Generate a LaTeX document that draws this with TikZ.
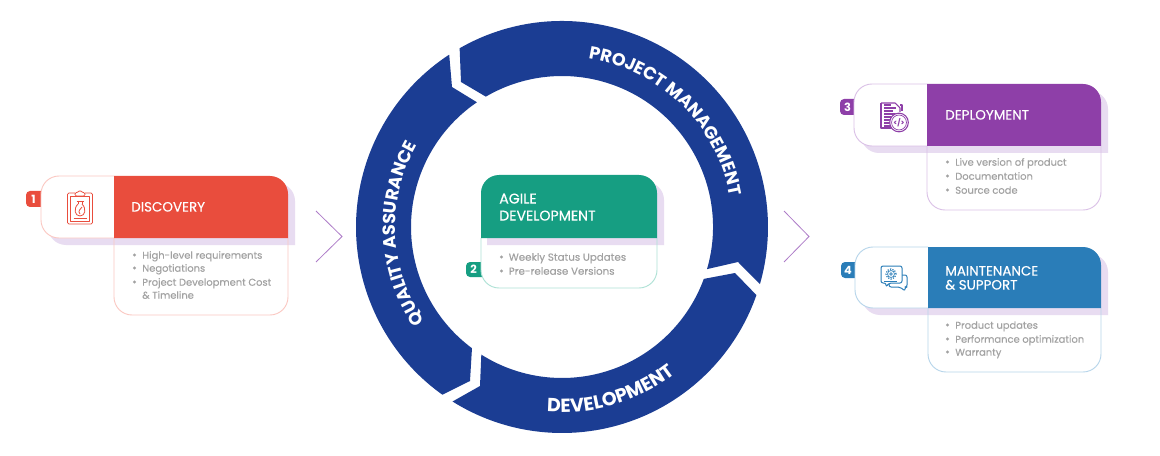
\documentclass[tikz,border=0pt]{standalone}
\usepackage{fontspec}
\setmainfont{Poppins}
\newfontfamily\titlef[FakeBold=0.35]{Poppins}
\newfontfamily\itemf[FakeBold=0.25]{Poppins}
\usetikzlibrary{calc,decorations.text}
\definecolor{navy}{HTML}{1B3D93}
\definecolor{cred}{HTML}{E94D3D}
\definecolor{cpur}{HTML}{8E3FA8}
\definecolor{cblu}{HTML}{2A7DB8}
\definecolor{cgrn}{HTML}{169E82}
\definecolor{bred}{HTML}{FBC9C3}
\definecolor{bpur}{HTML}{DBC2E7}
\definecolor{bblu}{HTML}{B8D6EB}
\definecolor{bgrn}{HTML}{AFE2D6}
\definecolor{lav}{HTML}{E8DCF1}
\definecolor{txt}{HTML}{A2A2A2}
\definecolor{chev}{HTML}{AE7CC8}
\tikzset{
  x=.75pt,y=-.75pt,
  ringseg/.style={fill=navy},
  title/.style={anchor=base west,yshift=-3.4pt,text=white,font=\titlef\fontsize{10.1}{12}\selectfont,inner sep=0pt},
  bigtitle/.style={title,font=\titlef\fontsize{10.6}{12}\selectfont},
  item/.style={anchor=base west,yshift=-2.8pt,text=txt,font=\itemf\fontsize{7.45}{10}\selectfont,inner sep=0pt},
  bigitem/.style={item,font=\itemf\fontsize{7.7}{10}\selectfont},
  dot/.style={fill=txt},
  badge/.style={text=white,font=\bfseries\fontsize{8.5}{10}\selectfont,inner sep=0pt},
  chevron/.style={draw=chev,line width=.6pt},
  ic/.style={line width=.6pt,line join=round},
}
\newcommand{\ringfont}{\bfseries\fontsize{13.2}{15}\selectfont}
\newcommand{\ringfontb}{\bfseries\fontsize{14.2}{15}\selectfont}
\def\Rc{13.5pt}
% x0 x1 x2 ytop ymid ybot main border
\newcommand{\cardbody}[8]{
  \fill[white] (#2,#5) -- (#2,#6-18) arc[start angle=180,end angle=270,radius=\Rc] -- (#3-18,#6) arc[start angle=270,end angle=360,radius=\Rc] -- (#3,#5) -- cycle;
  \fill[lav] (#3+7,#5+7) -- (#1+25,#5+7) arc[start angle=270,end angle=180,radius=\Rc] -- (#1+7,#4+25) arc[start angle=180,end angle=90,radius=\Rc] -- (#3-11,#4+7) arc[start angle=90,end angle=0,radius=\Rc] -- cycle;
  \fill[white] (#2,#5) -- (#1+18,#5) arc[start angle=270,end angle=180,radius=\Rc] -- (#1,#4+18) arc[start angle=180,end angle=90,radius=\Rc] -- (#2,#4) -- cycle;
  \draw[#8,line width=.7pt] (#2,#5) -- (#2,#6-18) arc[start angle=180,end angle=270,radius=\Rc] -- (#3-18,#6) arc[start angle=270,end angle=360,radius=\Rc] -- (#3,#5);
  \draw[#8,line width=.7pt] (#2,#5) -- (#1+18,#5) arc[start angle=270,end angle=180,radius=\Rc] -- (#1,#4+18) arc[start angle=180,end angle=90,radius=\Rc] -- (#2,#4);
  \fill[#7] (#2,#4) -- (#3-18,#4) arc[start angle=90,end angle=0,radius=\Rc] -- (#3,#5) -- (#2,#5) -- cycle;
}
\newcommand{\bul}[2]{\fill[dot] (#1,#2) circle (1.25pt);}
\begin{document}
\begin{tikzpicture}
\useasboundingbox (0,0) rectangle (1160,456);
\fill[white] (0,0) rectangle (1160,456);
\coordinate (C) at (562,227);
\def\Ro{154.5pt}\def\Ri{113.25pt}
% ring
\fill[ringseg] ($(C)+(119.8:\Ro)$) arc[start angle=119.8,end angle=-16.1,radius=\Ro] -- (738,262) -- ($(C)+(-16.2:\Ri)$) arc[start angle=-16.2,end angle=120.3,radius=\Ri] -- (461,82) -- cycle;
\fill[ringseg] ($(C)+(-19.3:\Ro)$) arc[start angle=-19.3,end angle=-122.1,radius=\Ro] -- (480,386) -- ($(C)+(-122.3:\Ri)$) arc[start angle=-122.3,end angle=-20.1,radius=\Ri] -- (735,273) -- cycle;
\fill[ringseg] ($(C)+(234.5:\Ro)$) arc[start angle=234.5,end angle=123.2,radius=\Ro] -- (452,87) -- ($(C)+(124.3:\Ri)$) arc[start angle=124.3,end angle=233.4,radius=\Ri] -- (470,381) -- cycle;
% ring labels
\path[decorate,decoration={text along path,text align=center,text color=white,text={|\ringfont|PROJECT MANAGEMENT}}]
  ($(C)+(85:128pt)$) arc[start angle=85,end angle=6.4,radius=128pt];
\path[decorate,decoration={text along path,text align=center,text color=white,text={|\ringfont|QUALITY ASSURANCE}}]
  ($(C)+(218.5:125pt)$) arc[start angle=218.5,end angle=146.5,radius=125pt];
\path[decorate,decoration={text along path,text align=center,text color=white,text={|\ringfontb|DEVELOPMENT}}]
  ($(C)+(258:139pt)$) arc[start angle=258,end angle=315,radius=139pt];
% chevrons
\draw[chevron] (316,211) -- (342,236.5) -- (316,262);
\draw[chevron] (784,211) -- (809,236.5) -- (784,262);
% badges
\fill[cred,rounded corners=3pt] (26,191) -- (50,191) -- (50,207) -- (26,207) -- cycle;
\fill[cpur,rounded corners=3pt] (840,99) -- (864,99) -- (864,115) -- (840,115) -- cycle;
\fill[cblu,rounded corners=3pt] (841,262) -- (865,262) -- (865,278) -- (841,278) -- cycle;
\fill[cgrn,rounded corners=3pt] (466,262) -- (490,262) -- (490,277) -- (466,277) -- cycle;
% cards
\cardbody{41}{114}{288}{176}{238}{315}{cred}{bred}
\cardbody{854}{927}{1101}{84}{146}{210}{cpur}{bpur}
\cardbody{855}{928}{1101}{247}{308}{372}{cblu}{bblu}
% agile card
\fill[white] (481,238) -- (481,270) arc[start angle=180,end angle=270,radius=\Rc] -- (639,288) arc[start angle=270,end angle=360,radius=\Rc] -- (657,238) -- cycle;
\fill[lav] (664,245) -- (487,245) -- (487,200) -- (646,182) arc[start angle=90,end angle=0,radius=\Rc] -- cycle;
\draw[bgrn,line width=.7pt] (481,238) -- (481,270) arc[start angle=180,end angle=270,radius=\Rc] -- (639,288) arc[start angle=270,end angle=360,radius=\Rc] -- (657,238);
\fill[cgrn] (481,238) -- (481,193) arc[start angle=180,end angle=90,radius=\Rc] -- (639,175) arc[start angle=90,end angle=0,radius=\Rc] -- (657,238) -- cycle;
% badge numbers
\node[badge] (n1) at (33.5,199) {1};
\node[badge] (n3) at (847.5,107) {3};
\node[badge] (n4) at (848,270) {4};
\node[badge] (n2) at (473.5,269.5) {2};
% titles
\node[title] (t1) at (131,207) {DISCOVERY};
\node[title] (t3) at (945,115) {DEPLOYMENT};
\node[title] (t4a) at (945,271) {MAINTENANCE};
\node[title] (t4b) at (945,285) {\& SUPPORT};
\node[bigtitle] (t2a) at (499,199) {AGILE};
\node[bigtitle] (t2b) at (499,216) {DEVELOPMENT};
% lists
\bul{134.5}{255}\node[item] (a1) at (142,255) {High-level requirements};
\bul{134.5}{268}\node[item] (a2) at (142,268) {Negotiations};
\bul{134.5}{282}\node[item] (a3) at (142,282) {Project Development Cost};
\node[item] (a4) at (142,295) {\& Timeline};
\bul{947.5}{162}\node[item] (b1) at (955,162) {Live version of product};
\bul{947.5}{176}\node[item] (b2) at (955,176) {Documentation};
\bul{947.5}{190}\node[item] (b3) at (955,190) {Source code};
\bul{947.5}{325}\node[item] (c1) at (955,325) {Product updates};
\bul{947.5}{339}\node[item] (c2) at (955,339) {Performance optimization};
\bul{947.5}{352}\node[item] (c3) at (955,352) {Warranty};
\bul{501.5}{257}\node[bigitem] (d1) at (508.5,257) {Weekly Status Updates};
\bul{501.5}{271}\node[bigitem] (d2) at (508.5,271) {Pre-release Versions};
% clipboard icon
\begin{scope}[ic,draw=cred]
\draw[rounded corners=1pt] (75,193) -- (67.5,193) -- (67.5,224) -- (92.5,224) -- (92.5,193) -- (85,193);
\draw (70.5,196) -- (70.5,221) -- (89.5,221) -- (89.5,196) -- cycle;
\draw[rounded corners=1pt] (75,196) -- (75,192.5) -- (78,192.5) -- (80,190) -- (82,192.5) -- (85,192.5) -- (85,196) -- cycle;
\draw (76.5,201) -- (83.5,201) (78,201) -- (78,204) (82,204) -- (82,201);
\draw (78,204) .. controls (73,209) and (75,216) .. (80,216) .. controls (85,216) and (87,209) .. (82,204);
\draw (80,214) .. controls (77,211) and (81,209) .. (82,207);
\draw (73.5,218) -- (87,218);
\end{scope}
% document icon
\begin{scope}[ic,draw=cpur,line width=.8pt]
\draw (881,103) -- (895,103) -- (900,108) -- (900,112);
\draw (895,128) -- (881,128) -- (881,103);
\draw (884,105) -- (891,105) (884,108) -- (896,108) (884,111) -- (893,111) (884,114) -- (897,114) (884,117) -- (893,117) (884,120) -- (890,120) (884,123) -- (890,123) (884,126) -- (892,126);
\draw (900,105) -- (902,105) -- (902,111);
\fill[white] (899,122.5) circle (7.2pt);
\draw (899,122.5) circle (7pt);
\draw[line width=.5pt] (899,122.5) circle (5.6pt);
\node[inner sep=0pt,text=cpur,font=\bfseries\fontsize{5.5}{6}\selectfont] (code) at (899,122.5) {</>};
\end{scope}
% chat icon
\begin{scope}[ic,draw=cblu,line width=.75pt]
\draw[rounded corners=1.5pt] (902,275) -- (907,275) -- (907,287) -- (905,287) -- (905,291) -- (900,287) -- (889,287) -- (889,283);
\fill[white,rounded corners=1.5pt] (881,266) rectangle (902,283);
\draw[rounded corners=1.5pt] (886,283) -- (881,283) -- (881,266) -- (902,266) -- (902,283) -- (889,283) -- (886,287) -- cycle;
\draw[line width=.9pt,densely dotted] (891,274) circle (3.8pt);
\draw[line width=.5pt] (891,274) circle (2.6pt);
\draw[line width=.5pt] (891,274) circle (1pt);
\draw (884,281) -- (897,281);
\end{scope}
\end{tikzpicture}
\end{document}
